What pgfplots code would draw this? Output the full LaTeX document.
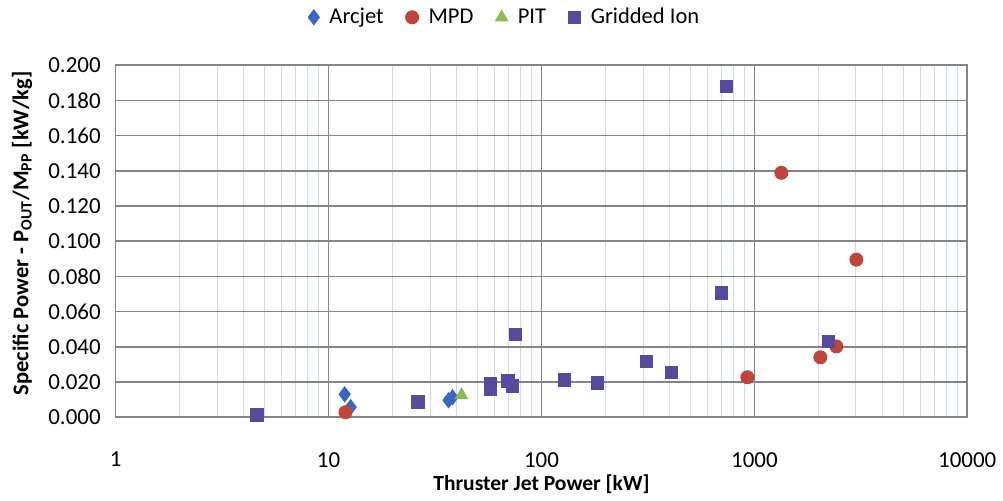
\documentclass[border=0pt]{standalone}
\usepackage{fontspec}
\setmainfont{Carlito}
\usepackage{pgfplots}
\pgfplotsset{compat=1.18}

\definecolor{arcblue}{HTML}{3A66C4}
\definecolor{mpdred}{HTML}{C0443A}
\definecolor{pitgreen}{HTML}{8DBB4E}
\definecolor{ionpurple}{HTML}{554A9E}
\definecolor{majgrid}{HTML}{858585}
\definecolor{mingrid}{HTML}{CBDCEE}

\begin{document}
\begin{tikzpicture}
\begin{axis}[
  scale only axis,
  width=427pt, height=176.5pt,
  xmode=log,
  xmin=1, xmax=10000,
  ymin=0, ymax=0.2,
  xtick={1,10,100,1000,10000},
  xticklabels={1,10,100,1000,10000},
  minor xtick={2,3,4,5,6,7,8,9,20,30,40,50,60,70,80,90,200,300,400,500,600,700,800,900,2000,3000,4000,5000,6000,7000,8000,9000},
  ytick={0,0.02,...,0.201},
  /pgf/number format/assume math mode=true,
  yticklabel style={xshift=-4pt, /pgf/number format/.cd, fixed, fixed zerofill, precision=3},
  xticklabel style={yshift=-14pt},
  tick label style={font=\fontsize{11.5}{13}\selectfont},
  major tick length=0pt, minor tick length=0pt,
  xmajorgrids, xminorgrids, ymajorgrids,
  major grid style={majgrid, line width=0.8pt},
  minor grid style={mingrid, line width=0.5pt},
  axis line style={majgrid, line width=0.8pt},
  xlabel={\textbf{Thruster Jet Power [kW]}},
  ylabel={\textbf{Specific Power - P\textsubscript{OUT}/M\textsubscript{PP} [kW/kg]}},
  xlabel style={font=\fontsize{10.8}{13}\selectfont, at={(axis description cs:0.5,0)}, anchor=center, yshift=-33.5pt},
  ylabel style={font=\fontsize{11.3}{13}\selectfont, at={(axis description cs:0,0.5)}, anchor=center, yshift=47pt, xshift=4pt},
  legend columns=4,
  legend style={draw=none, fill=none, at={(axis description cs:0.458,1.136)}, anchor=center,
    font=\fontsize{11.3}{13}\selectfont,
    /tikz/every odd column/.append style={column sep=3pt},
    /tikz/every even column/.append style={column sep=9pt}},
]
\addplot[only marks, mark=diamond*, mark size=3.8pt, color=arcblue] coordinates {
  (11.9,0.0130) (12.7,0.0057) (36.6,0.0096) (38.2,0.0113)
};
\addlegendentry{Arcjet}
\addplot[only marks, mark=*, mark size=3.3pt, color=mpdred] coordinates {
  (12.0,0.0028) (927,0.0227) (1339,0.1388) (2042,0.0340) (2427,0.0402) (3013,0.0895)
};
\addlegendentry{MPD}
\addplot[only marks, mark=triangle*, mark size=3.6pt, color=pitgreen] coordinates {
  (42.1,0.0125)
};
\addlegendentry{PIT}
\addplot[only marks, mark=square*, mark size=3.2pt, color=ionpurple] coordinates {
  (4.59,0.0015) (26.2,0.0085) (57.6,0.0187) (57.6,0.0159) (69.3,0.0204) (73.1,0.0176)
  (75.5,0.0470) (128,0.0210) (183,0.0193) (311,0.0317) (408,0.0255) (700,0.0708)
  (739,0.1880) (2225,0.0430)
};
\addlegendentry{Gridded Ion}
\end{axis}
\path (current axis.south west) ++(-58pt,-39.5pt) coordinate (bbA);
\path (current axis.north east) ++(16.5pt,32.5pt) coordinate (bbB);
\path (bbA) rectangle (bbB);
\end{tikzpicture}
\end{document}
